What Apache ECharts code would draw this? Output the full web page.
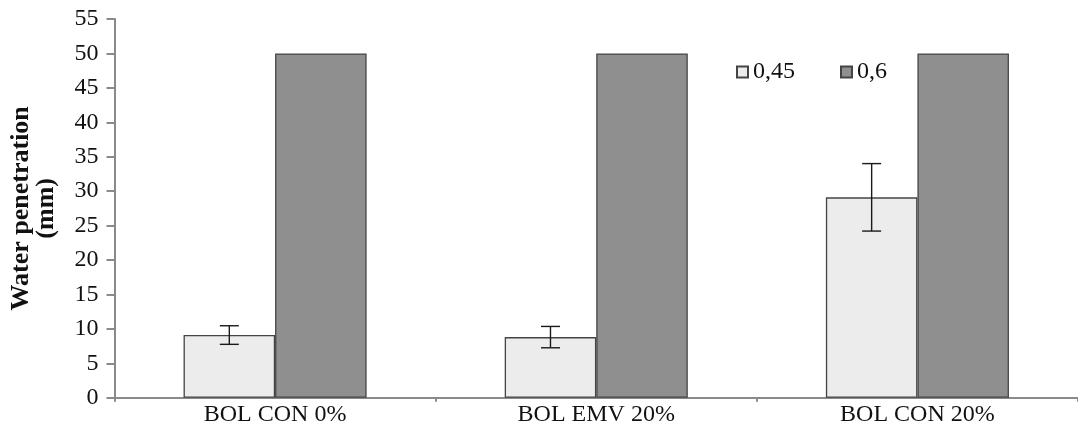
<!DOCTYPE html>
<html>
<head>
<meta charset="utf-8">
<script src="https://cdn.jsdelivr.net/npm/echarts@6/dist/echarts.min.js"></script>
<style>html,body{margin:0;padding:0;background:#fff}#c{width:1078px;height:428px}</style>
</head>
<body>
<div id="c"></div>
<script>
const categories = ['BOL CON 0%', 'BOL EMV 20%', 'BOL CON 20%'];
const seriesNames = ['0,45', '0,6'];
const values045 = [9.1, 8.8, 29.1];
const err045 = [1.35, 1.55, 4.9];
const values06 = [50, 50, 50];
const yTicks = { min: 0, max: 55, interval: 5 };

const FONT = '"Liberation Serif", "Times New Roman", serif';
const BAR_W = 0.285;

const chart = echarts.init(document.getElementById('c'));
const errData = values045.map((v, i) => [i, v - err045[i], v + err045[i]]);

chart.setOption({
  animation: false,
  backgroundColor: '#fff',
  grid: { left: 113.5, right: -6.5, top: 19, bottom: 30.3, containLabel: false },
  legend: {
    left: 736, top: 60, padding: 0,
    itemWidth: 11, itemHeight: 11, itemGap: 45,
    textStyle: { fontFamily: FONT, fontSize: 24, color: '#111' },
    data: seriesNames.map(n => ({ name: n, icon: 'rect' }))
  },
  xAxis: {
    type: 'category',
    data: categories,
    axisLine: { lineStyle: { color: '#8a8a8a', width: 2 } },
    axisTick: { show: true, length: 4, lineStyle: { color: '#8a8a8a', width: 2 } },
    axisLabel: { fontFamily: FONT, fontSize: 24, color: '#111', margin: 5 }
  },
  yAxis: {
    type: 'value',
    min: yTicks.min, max: yTicks.max, interval: yTicks.interval,
    splitLine: { show: false },
    axisLine: { show: true, lineStyle: { color: '#8a8a8a', width: 2 } },
    axisTick: { show: true, length: 8, lineStyle: { color: '#8a8a8a', width: 2 } },
    axisLabel: { fontFamily: FONT, fontSize: 24, color: '#111', margin: 16 },
    name: 'Water penetration\n(mm)',
    nameLocation: 'middle',
    nameRotate: 90,
    nameGap: 56,
    nameTextStyle: { fontFamily: FONT, fontSize: 26, fontWeight: 'bold', color: '#111', lineHeight: 25 }
  },
  series: [
    {
      name: seriesNames[0], type: 'bar', data: values045,
      barWidth: (BAR_W * 100) + '%', barGap: '0%',
      itemStyle: { color: '#ececec', borderColor: '#444', borderWidth: 1.3 }
    },
    {
      name: seriesNames[1], type: 'bar', data: values06,
      barWidth: (BAR_W * 100) + '%', barGap: '0%',
      itemStyle: { color: '#8f8f8f', borderColor: '#444', borderWidth: 1.3 }
    },
    {
      type: 'custom', name: 'err', data: errData, z: 10,
      renderItem: function (params, api) {
        const i = api.value(0);
        const lo = api.coord([i, api.value(1)]);
        const hi = api.coord([i, api.value(2)]);
        const band = api.size([1, 0])[0];
        const x = lo[0] - band * BAR_W / 2;
        const cap = 9.5;
        const style = { stroke: '#1a1a1a', lineWidth: 1.4, fill: null };
        return {
          type: 'group',
          children: [
            { type: 'line', shape: { x1: x, y1: hi[1], x2: x, y2: lo[1] }, style },
            { type: 'line', shape: { x1: x - cap, y1: hi[1], x2: x + cap, y2: hi[1] }, style },
            { type: 'line', shape: { x1: x - cap, y1: lo[1], x2: x + cap, y2: lo[1] }, style }
          ]
        };
      }
    }
  ]
});
</script>
</body>
</html>
